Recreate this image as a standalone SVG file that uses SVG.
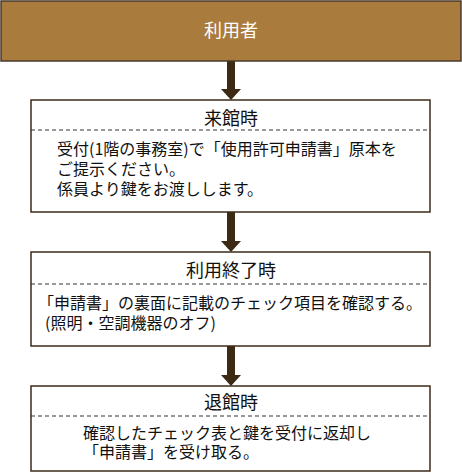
<svg xmlns="http://www.w3.org/2000/svg" width="462" height="472" viewBox="0 0 462 472">
<defs>
<style>
.box{fill:#fff;stroke:#3d2a17;stroke-width:1.5}
.dash{stroke:#333;stroke-width:1;stroke-dasharray:4 3;fill:none}
.t{font-family:"Noto Sans CJK JP","Noto Sans CJK SC",sans-serif;fill:#111}
.title{font-size:18px;text-anchor:middle}
.body{font-size:16px}
.arrow{fill:#3d2a14}
</style>
</defs>
<rect width="462" height="472" fill="#fff"/>
<g id="connectors">
<polygon class="arrow" points="227,61 235,61 235,89 241,89 231,100 221,89 227,89"/>
<polygon class="arrow" points="227,212 235,212 235,241 241,241 231,252 221,241 227,241"/>
<polygon class="arrow" points="227,346 235,346 235,375 241,375 231,386 221,375 227,375"/>
</g>
<g id="user">
<rect x="1" y="1" width="460" height="60" fill="#a97b3d" stroke="#4a3b2c" stroke-width="1.5"/>
<text class="t title" x="231" y="37" style="fill:#fff">利用者</text>
</g>
<g id="arrival">
<rect class="box" x="31" y="100" width="399" height="112"/>
<line class="dash" x1="31" y1="130" x2="430" y2="130"/>
<text class="t title" x="231" y="125">来館時</text>
<text class="t body" x="57" y="155">受付(1階の事務室)で「使用許可申請書」原本を</text>
<text class="t body" x="57" y="175">ご提示ください。</text>
<text class="t body" x="57" y="195">係員より鍵をお渡しします。</text>
</g>
<g id="end">
<rect class="box" x="31" y="252" width="399" height="94"/>
<line class="dash" x1="31" y1="284" x2="430" y2="284"/>
<text class="t title" x="231" y="277">利用終了時</text>
<text class="t body" x="38" y="309">「申請書」の裏面に記載のチェック項目を確認する。</text>
<text class="t body" x="45" y="329">(照明・空調機器のオフ)</text>
</g>
<g id="leave">
<rect class="box" x="31" y="386" width="399" height="85"/>
<line class="dash" x1="31" y1="416" x2="430" y2="416"/>
<text class="t title" x="231" y="409">退館時</text>
<text class="t body" x="83" y="439">確認したチェック表と鍵を受付に返却し</text>
<text class="t body" x="83" y="458">「申請書」を受け取る。</text>
</g>
</svg>
